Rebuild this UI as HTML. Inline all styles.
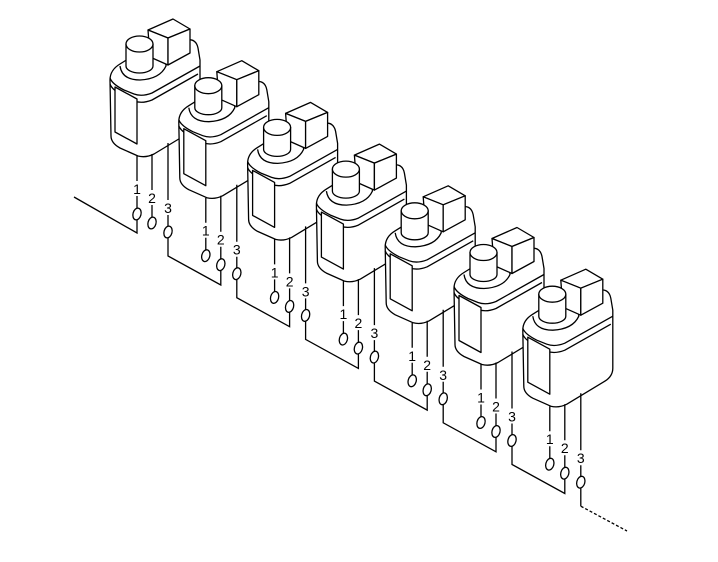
<!DOCTYPE html>
<html><head><style>html,body{margin:0;padding:0;background:#fff}svg{display:block}</style></head>
<body>
<svg width="718" height="562" viewBox="0 0 718 562" xmlns="http://www.w3.org/2000/svg">
<defs>
<g id="u" fill="#fff" stroke="#000" stroke-width="1.3" stroke-linejoin="round">
  <path d="M110,80 Q110,70 120,64 L128,59 L186,40 Q196,38 198,48 L200,60 L200,118 Q200,126 192,131 L154,154 Q146,158 138,156 L120,148 Q111,143 111,136 Z"/>
  <path d="M110,84 Q112,90 124,96 L134,101 Q142,104 152,100 L198,74" fill="none"/>
  <path d="M110,78 Q112,84 124,90 L134,94 Q142,97 152,93 L200,66" fill="none"/>
  <path d="M115,87 L137,99 L137,144 L115,132 Z"/>
  <path d="M120,66 Q122,80 140,80 Q160,79 166,66 Q166,58 158,56" />
  <path d="M148,30 L173,19 L190,29 L168,38 Z"/>
  <path d="M148,30 L168,38 L168,65 L150,57 Z"/>
  <path d="M168,38 L190,29 L190,53 L168,65 Z"/>
  <path d="M126,44 L126,66 A13.5,7 0 0 0 153,66 L153,44 Z"/>
  <ellipse cx="139.5" cy="44" rx="13.5" ry="8"/>
  <g fill="none">
    <path d="M137,156 V181 M137,196 V208"/>
    <path d="M152,154 V190 M152,205 V217"/>
    <path d="M168,143 V200 M168,215 V226"/>
  </g>
  <ellipse cx="137" cy="214" rx="4" ry="6" transform="rotate(15 137 214)"/>
  <ellipse cx="152" cy="223" rx="4" ry="6" transform="rotate(15 152 223)"/>
  <ellipse cx="168" cy="232" rx="4" ry="6" transform="rotate(15 168 232)"/>
  <g fill="#000" stroke="none" font-family="Liberation Sans, sans-serif" font-size="14" text-anchor="middle">
    <text x="137" y="194">1</text>
    <text x="152" y="203">2</text>
    <text x="168" y="213">3</text>
  </g>
</g>
</defs>
<g fill="none" stroke="#000" stroke-width="1.3">
  <path d="M74,197 L137,233 V220"/>
</g>
<g>
  <g fill="none" stroke="#000" stroke-width="1.3">
    <path d="M168,238 V256 L220.8,285 V270"/>
    <path d="M236.8,279.7 V297.7 L289.6,326.7 V311.7"/>
    <path d="M305.6,321.4 V339.4 L358.4,368.4 V353.4"/>
    <path d="M374.4,363.1 V381.1 L427.2,410.1 V395.1"/>
    <path d="M443.2,404.8 V422.8 L496,451.8 V436.8"/>
    <path d="M512,446.5 V464.5 L564.8,493.5 V478.5"/>
    <path d="M580.8,488.2 V506.2"/>
    <path d="M580.8,506.2 L627,531" stroke-dasharray="3,2"/>
  </g>
  <use href="#u"/>
  <use href="#u" transform="translate(68.8,41.7)"/>
  <use href="#u" transform="translate(137.6,83.4)"/>
  <use href="#u" transform="translate(206.4,125.1)"/>
  <use href="#u" transform="translate(275.2,166.8)"/>
  <use href="#u" transform="translate(344,208.5)"/>
  <use href="#u" transform="translate(412.8,250.2)"/>
</g>
</svg>
</body></html>
